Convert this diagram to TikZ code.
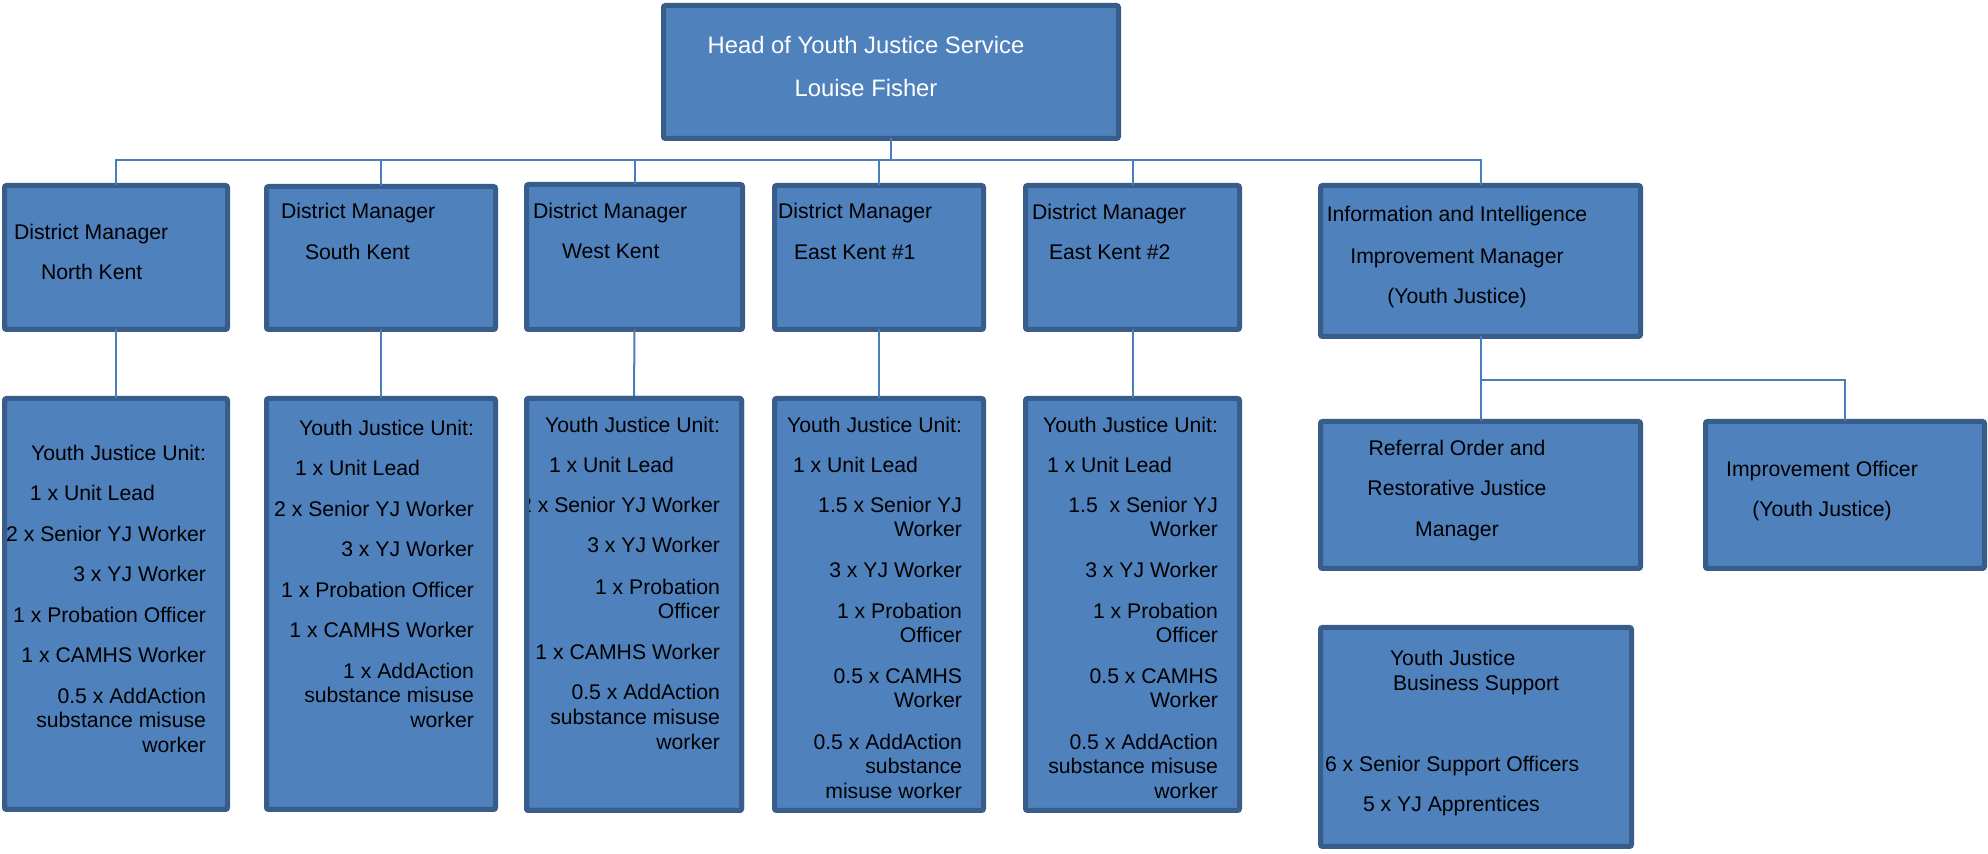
\documentclass[tikz,border=0pt]{standalone}
\usepackage{fontspec}
\setmainfont{Liberation Sans}
\definecolor{boxfill}{HTML}{4F81BD}
\definecolor{boxline}{HTML}{385D8A}
\definecolor{connline}{HTML}{4A7EBB}
\newcount\tlcnt
\newcommand\orgbox[5]{\node[orgbox, minimum width={(#4-#2-5)*0.5pt}, minimum height={(#5-#3-5)*0.5pt}] (#1) at ({(#2+#4)/2},{(#3+#5)/2}) {};}
\newcommand\tR[3]{\global\advance\tlcnt by 1 \node[txt,anchor=base east] (t\the\tlcnt) at (#1,#2+9.5) {#3};}
\newcommand\tL[3]{\global\advance\tlcnt by 1 \node[txt,anchor=base west] (t\the\tlcnt) at (#1,#2+9.5) {#3};}
\newcommand\tC[3]{\global\advance\tlcnt by 1 \node[txt,anchor=base] (t\the\tlcnt) at (#1,#2+9.5) {#3};}
\begin{document}
\begin{tikzpicture}[x=0.5pt,y=-0.5pt,
  orgbox/.style={draw=boxline, fill=boxfill, line width=2.5pt, rounded corners=1pt, inner sep=0pt, outer sep=0pt},
  boxrim/.style={draw=boxline, line width=2.5pt, rounded corners=1pt},
  conn/.style={draw=connline, line width=1pt},
  txt/.style={font=\fontsize{10.6pt}{12.7pt}\selectfont, text=black, inner sep=0pt, outer sep=0pt},
  headtxt/.style={font=\fontsize{11.9pt}{14pt}\selectfont, text=white}]
\useasboundingbox (0,0) rectangle (1988,854);
% connector levels
\coordinate (busy) at (116,160);
\coordinate (subbusy) at (1481,380);
% boxes
\orgbox{head}{661}{3}{1121}{141}
\orgbox{nk}{2}{183}{230}{332}
\orgbox{sk}{264}{184}{498}{332}
\orgbox{wk}{524}{182}{745}{332}
\orgbox{ek1}{772}{183}{986}{332}
\orgbox{ek2}{1023}{183}{1242}{332}
\orgbox{info}{1318}{183}{1643}{339}
\orgbox{nku}{2}{396}{230}{812}
\orgbox{sku}{264}{396}{498}{812}
\orgbox{wku}{524}{396}{744}{813}
\orgbox{ek1u}{772}{396}{986}{813}
\orgbox{ek2u}{1023}{396}{1242}{813}
\orgbox{ref}{1318}{419}{1643}{571}
\orgbox{imp}{1703}{419}{1987}{571}
\orgbox{bsup}{1318}{625}{1634}{849}
% connectors
\draw[conn] (head.south) -- (head.south |- busy);
\draw[conn] (nk.north) -- (nk.north |- busy) -- (info.north |- busy) -- (info.north);
\draw[conn] (sk.north) -- (sk.north |- busy);
\draw[conn] (wk.north) -- (wk.north |- busy);
\draw[conn] (ek1.north) -- (ek1.north |- busy);
\draw[conn] (ek2.north) -- (ek2.north |- busy);
\draw[conn] (nk.south) -- (nku.north);
\draw[conn] (sk.south) -- (sku.north);
\draw[conn] (wk.south) -- (wku.north);
\draw[conn] (ek1.south) -- (ek1.north |- ek1u.north);
\draw[conn] (ek2.south) -- (ek2u.north);
\draw[conn] (info.south) -- (ref.north);
\draw[conn] (info.south |- subbusy) -| (imp.north);
% head text
\tC{866}{44}{\color{white}\fontsize{11.9pt}{14pt}\selectfont Head of Youth Justice Service}
\tC{866}{87}{\color{white}\fontsize{11.9pt}{14pt}\selectfont Louise Fisher}
% district managers
\tL{14}{230}{District Manager}
\tL{41}{270}{North Kent}
\tL{281}{209}{District Manager}
\tL{305}{250}{South Kent}
\tL{533}{209}{District Manager}
\tL{562}{249}{West Kent}
\tL{778}{209}{District Manager}
\tL{794}{250}{East Kent \#1}
\tL{1032}{210}{District Manager}
\tL{1049}{250}{East Kent \#2}
\tC{1457}{212}{Information and Intelligence}
\tC{1457}{254}{Improvement Manager}
\tC{1457}{294}{(Youth Justice)}
% North Kent unit
\tR{206}{451}{Youth Justice Unit:}
\tL{30}{491}{1 x Unit Lead}
\tR{206}{532}{2 x Senior YJ Worker}
\tR{206}{572}{3 x YJ Worker}
\tR{206}{613}{1 x Probation Officer}
\tR{206}{653}{1 x CAMHS Worker}
\tR{206}{694}{0.5 x AddAction}
\tR{206}{718}{substance misuse}
\tR{206}{743}{worker}
% South Kent unit
\tR{474}{426}{Youth Justice Unit:}
\tL{295}{466}{1 x Unit Lead}
\tR{474}{507}{2 x Senior YJ Worker}
\tR{474}{547}{3 x YJ Worker}
\tR{474}{588}{1 x Probation Officer}
\tR{474}{628}{1 x CAMHS Worker}
\tR{474}{669}{1 x AddAction}
\tR{474}{693}{substance misuse}
\tR{474}{718}{worker}
% West Kent unit
\tR{720}{423}{Youth Justice Unit:}
\tL{549}{463}{1 x Unit Lead}
\begin{scope}
\clip (wku.north west) rectangle (wku.south east);
\tR{720}{503}{2 x Senior YJ Worker}
\end{scope}
\tR{720}{543}{3 x YJ Worker}
\tR{720}{585}{1 x Probation}
\tR{720}{609}{Officer}
\tR{720}{650}{1 x CAMHS Worker}
\tR{720}{690}{0.5 x AddAction}
\tR{720}{715}{substance misuse}
\tR{720}{740}{worker}
% East Kent 1 unit
\tR{962}{423}{Youth Justice Unit:}
\tL{793}{463}{1 x Unit Lead}
\tR{962}{503}{1.5 x Senior YJ}
\tR{962}{527}{Worker}
\tR{962}{568}{3 x YJ Worker}
\tR{962}{609}{1 x Probation}
\tR{962}{633}{Officer}
\tR{962}{674}{0.5 x CAMHS}
\tR{962}{698}{Worker}
\tR{962}{740}{0.5 x AddAction}
\tR{962}{764}{substance}
\tR{962}{789}{misuse worker}
% East Kent 2 unit
\tR{1218}{423}{Youth Justice Unit:}
\tL{1047}{463}{1 x Unit Lead}
\tR{1218}{503}{1.5\ \ x Senior YJ}
\tR{1218}{527}{Worker}
\tR{1218}{568}{3 x YJ Worker}
\tR{1218}{609}{1 x Probation}
\tR{1218}{633}{Officer}
\tR{1218}{674}{0.5 x CAMHS}
\tR{1218}{698}{Worker}
\tR{1218}{740}{0.5 x AddAction}
\tR{1218}{764}{substance misuse}
\tR{1218}{789}{worker}
% right column
\tC{1457}{446}{Referral Order and}
\tC{1457}{486}{Restorative Justice}
\tC{1457}{527}{Manager}
\tC{1822}{467}{Improvement Officer}
\tC{1822}{507}{(Youth Justice)}
\tL{1390}{656}{Youth Justice}
\tL{1393}{681}{Business Support}
\tL{1325}{762}{6 x Senior Support Officers}
\tL{1363}{802}{5 x YJ Apprentices}
% rim redrawn over clipped text
\draw[boxrim] (wku.north west) rectangle (wku.south east);
\end{tikzpicture}
\end{document}
